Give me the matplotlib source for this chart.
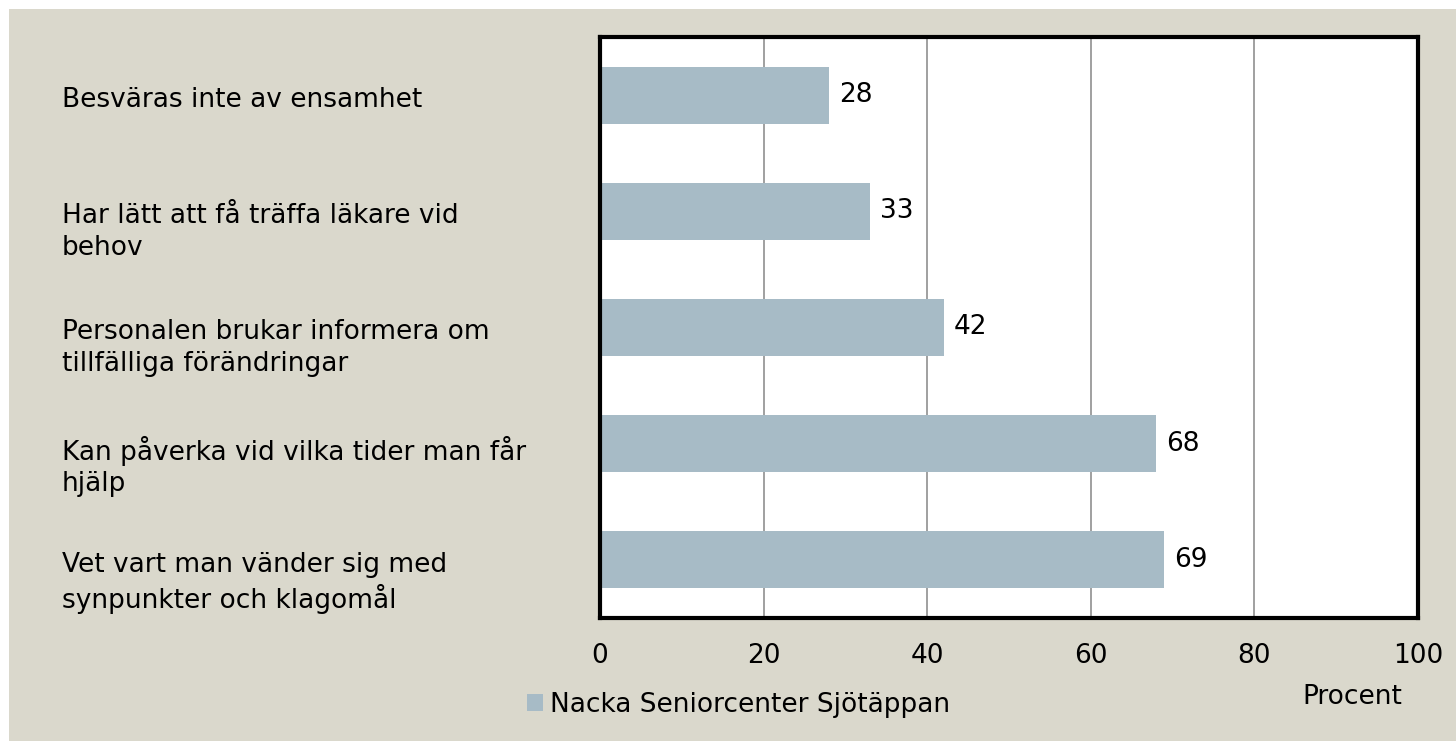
import matplotlib.pyplot as plt
from matplotlib.patches import Patch, Rectangle
from matplotlib.transforms import blended_transform_factory

categories = [
    "Besväras inte av ensamhet",
    "Har lätt att få träffa läkare vid\nbehov",
    "Personalen brukar informera om\ntillfälliga förändringar",
    "Kan påverka vid vilka tider man får\nhjälp",
    "Vet vart man vänder sig med\nsynpunkter och klagomål",
]
values = [28, 33, 42, 68, 69]
series_name = "Nacka Seniorcenter Sjötäppan"
xticks = [0, 20, 40, 60, 80, 100]

bg = "#dad8cc"
bar_color = "#a7bbc6"
fs = 19

plt.rcParams['font.family'] = ['DejaVu Sans']

fig = plt.figure(figsize=(14.56, 7.41), dpi=100)
fig.patch.set_facecolor("white")
# beige panel with a thin white margin at top and left
fig.patches.append(Rectangle((9 / 1456, 0), 1, 1 - 9 / 741,
                             transform=fig.transFigure, facecolor=bg,
                             edgecolor="none", zorder=-10))

ax = fig.add_axes([600 / 1456, 1 - 618 / 741, 818 / 1456, 581 / 741])
ax.set_facecolor("white")

ypos = list(range(len(categories)))
ax.barh(ypos, values, height=0.49, color=bar_color, zorder=2)
ax.set_xlim(0, 100)
ax.set_ylim(len(categories) - 0.5, -0.5)

ax.set_xticks(xticks)
ax.set_xticklabels([str(t) for t in xticks], fontsize=fs)
ax.tick_params(axis='x', length=0, pad=18)
ax.set_yticks([])
ax.grid(axis='x', color="#999999", linewidth=1.3, zorder=1)

for s in ax.spines.values():
    s.set_linewidth(3)
    s.set_color("black")

for y, v in zip(ypos, values):
    ax.text(v + 1.2, y, str(v), va='center', ha='left', fontsize=fs)

trans = blended_transform_factory(fig.transFigure, ax.transData)
for y, lab in zip(ypos, categories):
    ax.text(62 / 1456, y - 0.07, lab, transform=trans, ha='left', va='top',
            fontsize=fs, linespacing=1.27)

fig.text(1302 / 1456, 1 - 697 / 741, "Procent", ha='left', va='center',
         fontsize=fs)

handle = Patch(facecolor=bar_color, edgecolor='none')
fig.legend([handle], [series_name], loc='center left',
           bbox_to_anchor=(503 / 1456, 1 - 705 / 741), frameon=False,
           fontsize=fs, handlelength=0.6, handleheight=0.6,
           handletextpad=0.3)

fig.savefig("out.png", dpi=100, facecolor=fig.get_facecolor())
